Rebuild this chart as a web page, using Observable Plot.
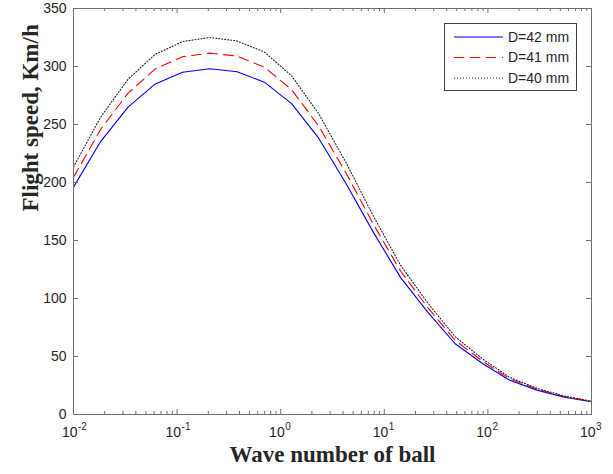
<!DOCTYPE html>
<html>
<head>
<meta charset="utf-8">
<script src="https://cdn.jsdelivr.net/npm/d3@7"></script>
<script src="https://cdn.jsdelivr.net/npm/@observablehq/plot@0.6"></script>
<style>
  html, body { margin: 0; padding: 0; background: #fff; }
  #wrap { position: relative; width: 613px; height: 474px; }
  #legend { position: absolute; left: 444px; top: 23px; }
</style>
</head>
<body>
<div id="wrap"></div>
<script>
// Wave number of ball (x, log spaced)
const waveNumber = [0.01, 0.01833, 0.03360, 0.06158, 0.1129, 0.2069, 0.3793, 0.6952, 1.2743, 2.3357,
  4.2813, 7.8476, 14.384, 26.367, 48.329, 88.587, 162.38, 297.64, 545.56, 1000];
// Flight speed, Km/h
const speedD42 = [196, 235.5, 265, 285, 295, 298, 295.5, 286.5, 268, 238, 199, 157, 118, 88, 61, 44, 29.5, 21, 15, 11];
const speedD41 = [204.5, 246, 277, 298, 308.5, 311.5, 309, 299.5, 280, 248.5, 208, 164, 123.5, 92, 64, 46, 30.8, 21.8, 15.5, 11.3];
const speedD40 = [213.5, 256.5, 289, 310.5, 321.5, 325, 322, 312.5, 292, 259, 217, 171, 128.5, 96, 67, 48, 32, 22.5, 16, 11.5];
const seriesNames = ["D=42 mm", "D=41 mm", "D=40 mm"];
const xMajorTicks = [0.01, 0.1, 1, 10, 100, 1000];
const xTickBase = ["10", "10", "10", "10", "10", "10"];
const xTickExp = ["-2", "-1", "0", "1", "2", "3"];
const yTicks = [0, 50, 100, 150, 200, 250, 300, 350];
const xLabel = "Wave number of ball";
const yLabel = "Flight speed, Km/h";

const styles = [
  {stroke: "#0000ff", dash: null},
  {stroke: "#ff0000", dash: "10,6"},
  {stroke: "#222222", dash: "1,2"}
];
const seriesValues = [speedD42, speedD41, speedD40];
const rows = seriesValues.map((vals, s) => vals.map((v, i) => ({x: waveNumber[i], y: v, s: seriesNames[s]})));

// minor log ticks
const xMinor = [];
for (let e = -2; e < 3; e++) for (let m = 2; m <= 9; m++) xMinor.push(m * Math.pow(10, e));

const W = 613, H = 474, mL = 73, mR = 22, mT = 8, mB = 60;
const pw = W - mL - mR, ph = H - mT - mB;
const axisColor = "#707070";
const textColor = "#262626";
const tickFont = "Liberation Sans, Arial, sans-serif";
const labelFont = "Liberation Serif, Times New Roman, serif";

const chart = Plot.plot({
  width: W, height: H,
  marginLeft: mL, marginRight: mR, marginTop: mT, marginBottom: mB,
  x: {type: "log", domain: [0.01, 1000], axis: null},
  y: {domain: [0, 350], axis: null},
  style: {background: "#fff", overflow: "visible"},
  marks: [
    // lines
    ...rows.map((r, s) => Plot.line(r, {x: "x", y: "y", stroke: styles[s].stroke, strokeWidth: 1.1,
      strokeDasharray: styles[s].dash, strokeLinejoin: "round"})),
    // frame
    Plot.frame({stroke: axisColor, strokeWidth: 1}),
    // x major ticks bottom/top (inward)
    Plot.tickX(xMajorTicks, {x: d => d, stroke: axisColor, insetTop: ph - 5}),
    Plot.tickX(xMajorTicks, {x: d => d, stroke: axisColor, insetBottom: ph - 5}),
    Plot.tickX(xMinor, {x: d => d, stroke: axisColor, insetTop: ph - 3}),
    Plot.tickX(xMinor, {x: d => d, stroke: axisColor, insetBottom: ph - 3}),
    // y ticks left/right
    Plot.tickY(yTicks, {y: d => d, stroke: axisColor, insetRight: pw - 5}),
    Plot.tickY(yTicks, {y: d => d, stroke: axisColor, insetLeft: pw - 5}),
    // y tick labels
    Plot.text(yTicks, {y: d => d, text: d => String(d), frameAnchor: "left", textAnchor: "end", dx: -7,
      fontSize: 14, fontFamily: tickFont, fill: textColor}),
    // x tick labels: base + superscript exponent
    Plot.text(xMajorTicks, {x: d => d, text: (d, i) => xTickBase[i], frameAnchor: "bottom", textAnchor: "end",
      dx: 4, dy: 22, fontSize: 14, fontFamily: tickFont, fill: textColor}),
    Plot.text(xMajorTicks, {x: d => d, text: (d, i) => xTickExp[i], frameAnchor: "bottom", textAnchor: "start",
      dx: 4.5, dy: 15, fontSize: 10, fontFamily: tickFont, fill: textColor}),
    // axis labels
    Plot.text([xLabel], {text: d => d, frameAnchor: "bottom", dy: 47.6, fontSize: 23, fontWeight: "bold",
      fontFamily: labelFont, fill: textColor}),
    Plot.text([yLabel], {text: d => d, frameAnchor: "left", rotate: -90, dx: -42.4, fontSize: 23, fontWeight: "bold",
      fontFamily: labelFont, fill: textColor})
  ]
});
document.getElementById("wrap").appendChild(chart);

// legend (HTML/SVG overlay)
const lw = 132, lh = 67;
const leg = d3.select("#wrap").append("svg").attr("id", "legend").attr("width", lw + 1).attr("height", lh + 1);
leg.append("rect").attr("x", 0.5).attr("y", 0.5).attr("width", lw).attr("height", lh)
  .attr("fill", "#fff").attr("stroke", "#404040").attr("stroke-width", 1);
const rowY = [14, 34.5, 55];
seriesNames.forEach((name, i) => {
  leg.append("line").attr("x1", 10).attr("x2", 59).attr("y1", rowY[i]).attr("y2", rowY[i])
    .attr("stroke", styles[i].stroke).attr("stroke-width", 1.1)
    .attr("stroke-dasharray", styles[i].dash);
  leg.append("text").attr("x", 64).attr("y", rowY[i]).attr("dy", "0.35em")
    .attr("font-family", tickFont).attr("font-size", 14).attr("fill", textColor).text(name);
});
</script>
</body>
</html>
